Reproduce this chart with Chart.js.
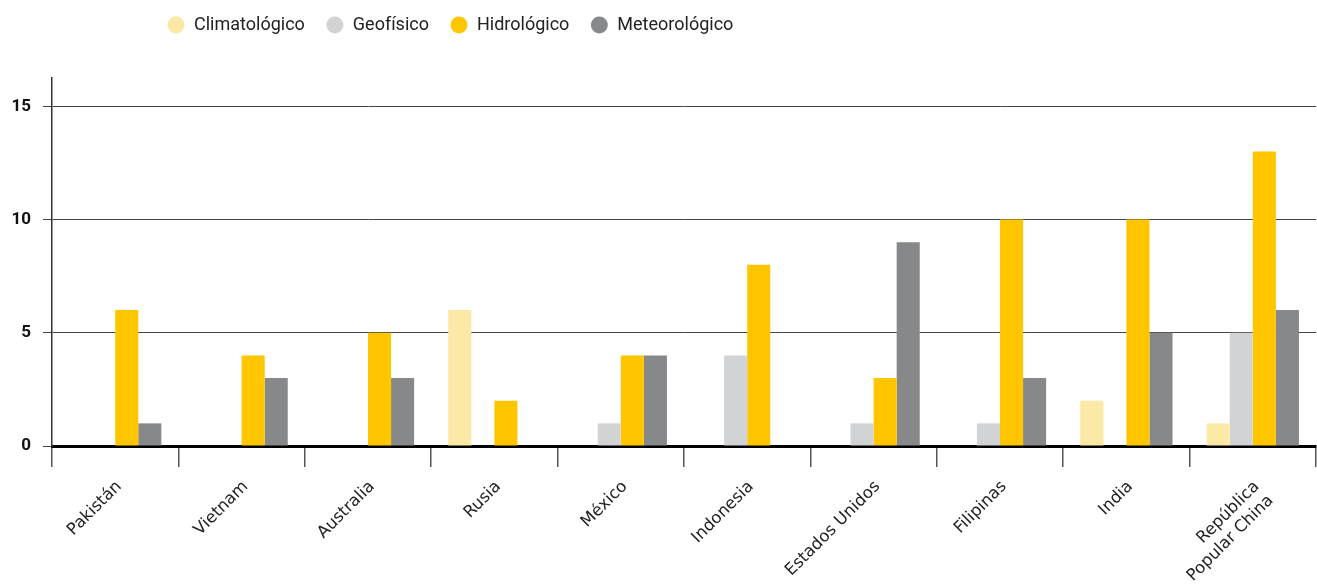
<!DOCTYPE html>
<html>
<head>
<meta charset="utf-8">
<script src="https://cdn.jsdelivr.net/npm/chart.js@4/dist/chart.umd.min.js"></script>
<style>
  html, body { margin: 0; padding: 0; background: #fff; }
  #wrap { width: 1317px; height: 585px; }
</style>
</head>
<body>
<div id="wrap"><canvas id="myChart"></canvas></div>
<script>
// datos
var paises = ["Pakistán", "Vietnam", "Australia", "Rusia", "México", "Indonesia",
    "Estados Unidos", "Filipinas", "India", ["República", "Popular China"]];
var climatologico = [0, 0, 0, 6, 0, 0, 0, 0, 2, 1];
var geofisico     = [0, 0, 0, 0, 1, 4, 1, 1, 0, 5];
var hidrologico   = [6, 4, 5, 2, 4, 8, 3, 10, 10, 13];
var meteorologico = [1, 3, 3, 0, 4, 0, 9, 3, 5, 6];
var yTicks = [0, 5, 10, 15];

var fuente = "Roboto, 'DejaVu Sans', sans-serif";

// leyenda: alto fijo y desplazada a la derecha
var ajusteLeyenda = {
    id: 'ajusteLeyenda',
    afterInit: function (chart) {
        var fitOrig = chart.legend.fit;
        chart.legend.fit = function () {
            fitOrig.apply(this, arguments);
            this.height = 78;
        };
    },
    afterLayout: function (chart) {
        chart.legend.left = 146;
        chart.legend.top = -5;
    }
};

var data = {
    labels: paises,
    datasets: [
        {label: "Climatológico", data: climatologico, backgroundColor: "#fde9a6"},
        {label: "Geofísico", data: geofisico, backgroundColor: "#d2d3d5"},
        {label: "Hidrológico", data: hidrologico, backgroundColor: "#ffc600"},
        {label: "Meteorológico", data: meteorologico, backgroundColor: "#87888a"}
    ]
};

const config = {
    type: 'bar',
    data: data,
    plugins: [ajusteLeyenda],
    options: {
        responsive: true,
        maintainAspectRatio: false,
        animation: false,
        datasets: {
            bar: {categoryPercentage: 0.73, barPercentage: 1.0}
        },
        layout: {padding: {top: 0, right: 1, left: 0, bottom: 0}},
        plugins: {
            legend: {
                position: 'top',
                align: 'start',
                labels: {
                    usePointStyle: true,
                    pointStyle: 'circle',
                    boxWidth: 18,
                    boxHeight: 12,
                    padding: 21,
                    color: '#222',
                    font: {family: fuente, size: 18}
                }
            },
            tooltip: {enabled: false}
        },
        scales: {
            x: {
                grid: {
                    offset: true,
                    drawOnChartArea: false,
                    drawTicks: true,
                    tickLength: 21,
                    color: '#555',
                    lineWidth: 1.5
                },
                border: {display: true, color: '#000', width: 3},
                ticks: {
                    minRotation: 45,
                    maxRotation: 45,
                    autoSkip: false,
                    padding: 10,
                    labelOffset: 4,
                    color: '#222',
                    font: {family: "'DejaVu Sans', sans-serif", size: 16.5}
                },
                afterFit: function (scale) { scale.height = 139; }
            },
            y: {
                min: 0,
                max: 16.25,
                grid: {
                    color: '#444',
                    lineWidth: 1,
                    tickLength: 9
                },
                border: {display: true, color: '#333', width: 1.5},
                ticks: {
                    stepSize: 5,
                    padding: 12,
                    color: '#111',
                    font: {family: fuente, size: 17, weight: 'bold'}
                },
                afterBuildTicks: function (scale) {
                    scale.ticks = yTicks.map(function (v) { return {value: v}; });
                },
                afterFit: function (scale) { scale.width = 52; }
            }
        }
    }
};

const myChart = new Chart(document.getElementById('myChart'), config);
</script>
</body>
</html>
